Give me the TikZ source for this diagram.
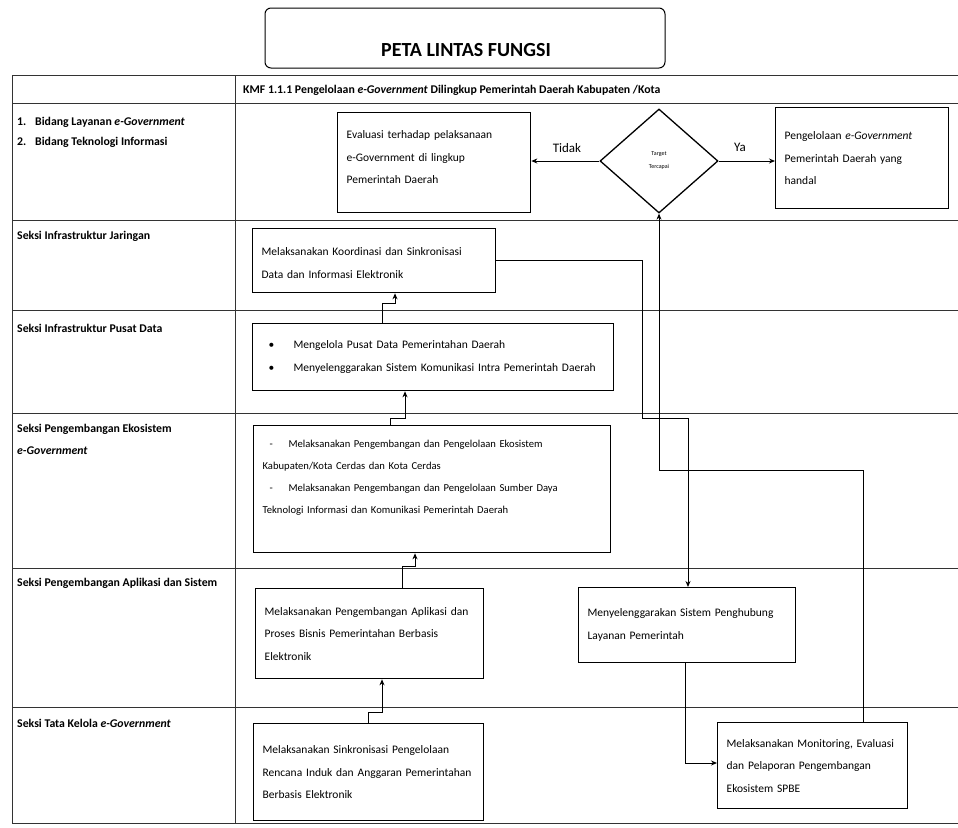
\documentclass[tikz,border=0pt]{standalone}
\usepackage{fontspec}
\setmainfont{Carlito}
\usetikzlibrary{shapes.geometric,arrows.meta}
\begin{document}
\begin{tikzpicture}[x=1pt,y=-1pt,
  grid/.style={line width=0.8pt, black!80},
  box/.style={draw, line width=1.3pt, anchor=north west, align=left, inner xsep=9pt, inner ysep=3pt, font=\fontsize{11.5}{22.5}\selectfont},
  lbl/.style={anchor=base west, font=\fontsize{11.8}{13}\selectfont\bfseries, inner sep=0pt},
  arr/.style={line width=0.9pt, -{Stealth[length=6pt,width=5pt]}},
  yn/.style={font=\fontsize{13}{15}\selectfont, inner sep=0pt}]

\useasboundingbox (0,0) rectangle (958,827);
\fill[white] (0,0) rectangle (958,827);

% title
\node[draw, rounded corners=6pt, line width=1pt, minimum width=400pt, minimum height=60pt] (titlebox) at (465,38) {};
\node[font=\fontsize{20}{22}\selectfont\bfseries, inner sep=0pt] (title) at (466,50) {PETA LINTAS FUNGSI};

% table grid
\foreach \yy in {75,103,220,310,413,568,707,823}
  \draw[grid] (12,\yy) -- (958,\yy);
\draw[grid] (12,75) -- (12,823);
\draw[grid] (235,75) -- (235,823);

% header and lane labels
\node[lbl] (hdr) at (243,93) {KMF 1.1.1 Pengelolaan \textit{e-Government} Dilingkup Pemerintah Daerah Kabupaten /Kota};
\node[lbl] (r1a) at (17,125) {\makebox[18pt][l]{1.}Bidang Layanan \textit{e-Government}};
\node[lbl] (r1b) at (17,145) {\makebox[18pt][l]{2.}Bidang Teknologi Informasi};
\node[lbl] (r2) at (17,239) {Seksi Infrastruktur Jaringan};
\node[lbl] (r3) at (17,332) {Seksi Infrastruktur Pusat Data};
\node[lbl] (r4a) at (17,432) {Seksi Pengembangan Ekosistem};
\node[lbl] (r4b) at (17,454) {\textit{e-Government}};
\node[lbl] (r5) at (17,586) {Seksi Pengembangan Aplikasi dan Sistem};
\node[lbl] (r6) at (17,727) {Seksi Tata Kelola \textit{e-Government}};

% boxes
\node[box, text width=175pt, minimum height=100pt] (eval) at (337,112)
  {Evaluasi terhadap pelaksanaan\\ e-Government di lingkup\\ Pemerintah Daerah\\[-12pt] \mbox{}};
\node[diamond, draw, line width=1.3pt, minimum width=118pt, minimum height=104pt, inner sep=0pt,
  font=\fontsize{6}{13}\selectfont, align=center] (dec) at (659,161) {Target\\Tercapai};
\node[box, text width=155pt, minimum height=101pt] (peng) at (775,107)
  {Pengelolaan \textit{e-Government}\\ Pemerintah Daerah yang\\ handal};
\node[box, text width=225pt, minimum height=64pt] (koord) at (252,228)
  {\mbox{}\\[-10pt] Melaksanakan Koordinasi dan Sinkronisasi\\ Data dan Informasi Elektronik};
\node[box, text width=343pt, minimum height=67pt] (pusat) at (252,323)
  {\hspace*{7pt}\makebox[25pt][l]{\textbullet}Mengelola Pusat Data Pemerintahan Daerah\\
   \hspace*{7pt}\makebox[25pt][l]{\textbullet}Menyelenggarakan Sistem Komunikasi Intra Pemerintah Daerah};
\node[box, text width=339pt, minimum height=127pt, font=\fontsize{10.6}{22}\selectfont] (eko) at (253,425)
  {\hspace*{7pt}\makebox[19pt][l]{-}Melaksanakan Pengembangan dan Pengelolaan Ekosistem\\
   Kabupaten/Kota Cerdas dan Kota Cerdas\\
   \hspace*{7pt}\makebox[19pt][l]{-}Melaksanakan Pengembangan dan Pengelolaan Sumber Daya\\
   Teknologi Informasi dan Komunikasi Pemerintah Daerah\\[2pt] \mbox{}};
\node[box, text width=210pt, minimum height=90pt] (apl) at (255,588)
  {Melaksanakan Pengembangan Aplikasi dan\\ Proses Bisnis Pemerintahan Berbasis\\ Elektronik};
\node[box, text width=199pt, minimum height=75pt] (peng2) at (578,587)
  {Menyelenggarakan Sistem Penghubung\\ Layanan Pemerintah};
\node[box, text width=212pt, minimum height=97pt] (sink) at (253,723)
  {Melaksanakan Sinkronisasi Pengelolaan\\ Rencana Induk dan Anggaran Pemerintahan\\ Berbasis Elektronik};
\node[box, text width=172pt, minimum height=86pt] (mon) at (717,722)
  {Melaksanakan Monitoring, Evaluasi\\ dan Pelaporan Pengembangan\\ Ekosistem SPBE};

% decision arrows
\draw[arr] (dec.west) -- (dec.west -| eval.east);
\draw[arr] (dec.east) -- (dec.east -| peng.west);
\node[yn] (tidak) at (567,148) {Tidak};
\node[yn] (ya) at (740,147) {Ya};

% vertical stepped connectors
\coordinate (c1) at (382,303); \coordinate (c2) at (395,303);
\draw[arr] (pusat.north -| c1) -- (c1) -- (c2) -- (koord.south -| c2);
\coordinate (d1) at (390,418); \coordinate (d2) at (405,418);
\draw[arr] (eko.north -| d1) -- (d1) -- (d2) -- (pusat.south -| d2);
\coordinate (e1) at (402,566); \coordinate (e2) at (415,566);
\draw[arr] (apl.north -| e1) -- (e1) -- (e2) -- (eko.south -| e2);
\coordinate (f1) at (368,712); \coordinate (f2) at (382,712);
\draw[arr] (sink.north -| f1) -- (f1) -- (f2) -- (apl.south -| f2);

% long connectors
\coordinate (g2) at (642,418); \coordinate (g3) at (688,418);
\draw[arr] (koord.east) -| (g2) -- (g3) -- (peng2.north -| g3);
\coordinate (h1) at (863,470); \coordinate (h2) at (659,470);
\draw[arr] (mon.north -| h1) -- (h1) -- (h2) -- (dec.south);
\coordinate (i1) at (685,763);
\draw[arr] (peng2.south -| i1) -- (i1) -- (i1 -| mon.west);
\end{tikzpicture}
\end{document}
